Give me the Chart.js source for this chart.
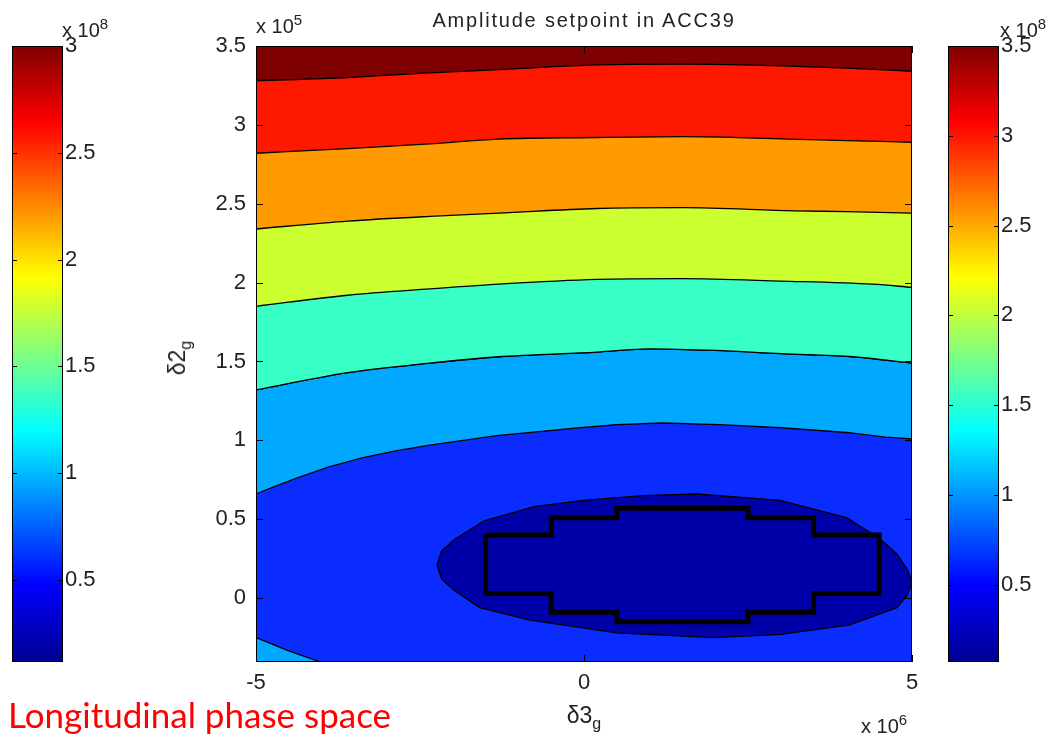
<!DOCTYPE html>
<html>
<head>
<meta charset="utf-8">
<script src="https://cdn.jsdelivr.net/npm/chart.js@4.4.1/dist/chart.umd.min.js"></script>
<style>
  body { margin: 0; width: 1058px; height: 735px; background: #fff; position: relative; overflow: hidden;
         font-family: "Liberation Sans", Arial, sans-serif; color: #222; }
  canvas { position: absolute; top: 0; }
  .t { position: absolute; white-space: nowrap; line-height: 1; }
  .exp { font-size: 20px; }
  .exp sup { font-size: 15px; vertical-align: 8px; }
  .lab { font-size: 23px; }
  .lab sub { font-size: 16px; vertical-align: -6px; }
</style>
</head>
<body>
<canvas id="cb-left" width="150" height="735" style="left:0"></canvas>
<canvas id="main-chart" width="800" height="735" style="left:150px"></canvas>
<canvas id="cb-right" width="118" height="735" style="left:940px"></canvas>

<div class="t" style="left:584px; top:10px; font-size:20px; letter-spacing:1.8px; transform:translateX(-50%)">Amplitude setpoint in ACC39</div>
<div class="t exp" style="left:256px; top:12px">x 10<sup>5</sup></div>
<div class="t exp" style="left:861px; top:712px">x 10<sup>6</sup></div>
<div class="t exp" style="left:62px; top:16px">x 10<sup>8</sup></div>
<div class="t exp" style="left:1000px; top:16px">x 10<sup>8</sup></div>
<div class="t lab" style="left:180px; top:358px; transform:translate(-50%,-50%) rotate(-90deg)">δ2<sub>g</sub></div>
<div class="t lab" style="left:584px; top:718px; transform:translate(-50%,-50%)">δ3<sub>g</sub></div>
<div class="t" style="left:8px; top:697px; font-size:35px; font-family:Lato, sans-serif; color:#ff0000">Longitudinal phase space</div>

<script>
// axes (x in units of 1e6, y in units of 1e5)
const x_range = [-5, 5];
const y_range = [-0.405, 3.5];
const x_ticks = [-5, 0, 5];
const y_ticks = [0, 0.5, 1, 1.5, 2, 2.5, 3, 3.5];

// colorbars (units of 1e8)
const left_bar_range = [0.116, 3];
const left_bar_ticks = [0.5, 1, 1.5, 2, 2.5, 3];
const right_bar_range = [0.07, 3.5];
const right_bar_ticks = [0.5, 1, 1.5, 2, 2.5, 3, 3.5];

// contour boundaries, top to bottom
const edge_1 = [[-5, 3.28], [-3.6, 3.3], [-2.35, 3.33], [-1.3, 3.35], [0.2, 3.38], [1.5, 3.385], [2.9, 3.375], [4, 3.36], [5, 3.34]];
const edge_2 = [[-5, 2.82], [-3.6, 2.85], [-2.35, 2.88], [-1.3, 2.91], [0.2, 2.92], [1.5, 2.925], [3.1, 2.91], [4, 2.9], [5, 2.89]];
const edge_3 = [[-5, 2.34], [-3.6, 2.39], [-2.35, 2.42], [-1.3, 2.44], [0.2, 2.47], [1.5, 2.475], [3.2, 2.455], [4, 2.45], [5, 2.44]];
const edge_4 = [[-5, 1.85], [-3.6, 1.92], [-2.35, 1.96], [-1.3, 1.99], [0.2, 2.02], [1.5, 2.025], [3, 2.01], [4.4, 1.99], [5, 1.97]];
const edge_5 = [[-5, 1.32], [-3.6, 1.43], [-2.35, 1.49], [-1.3, 1.53], [0.2, 1.56], [1, 1.58], [2, 1.57], [3, 1.55], [4.1, 1.53], [5, 1.49]];

// closed contours near the minimum
const outer_loop = [[-5, 0.66], [-4.7, 0.71], [-4.38, 0.76], [-3.9, 0.83], [-3.37, 0.89], [-2.85, 0.935], [-2.35, 0.97],
  [-1.33, 1.03], [-0.06, 1.08], [0.5, 1.1], [1.2, 1.11], [2.07, 1.1], [3, 1.08], [4, 1.05], [4.6, 1.02], [5, 1.01],
  [5, -0.405], [-4.02, -0.405], [-4.53, -0.33], [-5, -0.25], [-5, 0.66]];
const inner_loop = [[-2.24, 0.21], [-2.17, 0.3], [-1.98, 0.37], [-1.52, 0.49], [-0.76, 0.58], [0, 0.62], [0.9, 0.65],
  [1.72, 0.66], [2.99, 0.62], [4, 0.51], [4.5, 0.38], [4.77, 0.28], [4.93, 0.18], [5, 0.1], [4.93, 0.02], [4.77, -0.06],
  [4.05, -0.17], [3, -0.23], [1.97, -0.25], [0.5, -0.22], [-0.82, -0.14], [-1.59, -0.06], [-1.98, 0.05], [-2.17, 0.12],
  [-2.24, 0.21]];
const stair_outline = [[-1.5, 0.4], [-0.5, 0.4], [-0.5, 0.51], [0.5, 0.51], [0.5, 0.57], [2.5, 0.57], [2.5, 0.51],
  [3.5, 0.51], [3.5, 0.4], [4.5, 0.4], [4.5, 0.03], [3.5, 0.03], [3.5, -0.09], [2.5, -0.09], [2.5, -0.15], [0.5, -0.15],
  [0.5, -0.09], [-0.5, -0.09], [-0.5, 0.03], [-1.5, 0.03], [-1.5, 0.4]];

// band colours, bottom to top
const band_colors = ["#0000a8", "#0a2cff", "#00a8ff", "#38ffc6", "#ccff30", "#ff9a00", "#ff1800", "#7e0000"];

const jet_stops = [[0, "#000090"], [0.125, "#0000ff"], [0.375, "#00ffff"], [0.625, "#ffff00"], [0.875, "#ff0000"], [1, "#800000"]];
const tick_font = { family: "Liberation Sans", size: 22 };
const text_color = "#222";

const to_points = (pairs) => pairs.map(([x, y]) => ({ x, y }));

// black frame plus MATLAB style inward tick marks
const frame_ticks = {
  id: "frame_ticks",
  afterDatasetsDraw(chart, args, opts) {
    const { ctx, chartArea: a, scales } = chart;
    const len = opts.len || 7;
    ctx.save();
    ctx.strokeStyle = "#000";
    ctx.lineWidth = 1;
    ctx.beginPath();
    if (opts.y) {
      scales.y.ticks.forEach((t) => {
        const py = Math.round(scales.y.getPixelForValue(t.value)) + 0.5;
        ctx.moveTo(a.left, py); ctx.lineTo(a.left + len, py);
        ctx.moveTo(a.right, py); ctx.lineTo(a.right - len, py);
      });
    }
    if (opts.x) {
      scales.x.ticks.forEach((t) => {
        const px = Math.round(scales.x.getPixelForValue(t.value)) + 0.5;
        ctx.moveTo(px, a.bottom); ctx.lineTo(px, a.bottom - len);
        ctx.moveTo(px, a.top); ctx.lineTo(px, a.top + len);
      });
    }
    ctx.stroke();
    ctx.strokeRect(a.left + 0.5, a.top + 0.5, a.right - a.left - 1, a.bottom - a.top - 1);
    ctx.restore();
  },
};

const contour_dataset = (pairs, fill, color, order, width, smooth) => ({
  data: to_points(pairs),
  fill: fill,
  backgroundColor: color,
  borderColor: "#000",
  borderWidth: width || 1.3,
  borderJoinStyle: "miter",
  pointRadius: 0,
  tension: 0,
  cubicInterpolationMode: smooth ? "monotone" : "default",
  order: order,
});

const main_datasets = [
  contour_dataset(stair_outline, false, "transparent", 1, 5),
  contour_dataset(inner_loop, "shape", band_colors[0], 2),
  contour_dataset(outer_loop, "shape", band_colors[1], 3),
  contour_dataset(edge_1, "end", band_colors[7], 4, 1.3, true),
  contour_dataset(edge_2, "end", band_colors[6], 5, 1.3, true),
  contour_dataset(edge_3, "end", band_colors[5], 6, 1.3, true),
  contour_dataset(edge_4, "end", band_colors[4], 7, 1.3, true),
  contour_dataset(edge_5, "end", band_colors[3], 8, 1.3, true),
  contour_dataset(edge_5, "start", band_colors[2], 9, 1.3, true),
];

const main_chart = new Chart(document.getElementById("main-chart"), {
  type: "line",
  data: { datasets: main_datasets },
  plugins: [frame_ticks],
  options: {
    responsive: false,
    animation: false,
    layout: { padding: { left: 56, right: 38, top: 46, bottom: 33 } },
    plugins: {
      legend: { display: false },
      tooltip: { enabled: false },
      frame_ticks: { x: true, y: true, len: 7 },
    },
    scales: {
      x: {
        type: "linear",
        min: x_range[0],
        max: x_range[1],
        afterBuildTicks: (s) => { s.ticks = x_ticks.map((v) => ({ value: v })); },
        afterFit: (s) => { s.height = 40; },
        grid: { display: false, drawTicks: false },
        border: { display: false },
        ticks: { font: tick_font, color: text_color, padding: 8, maxRotation: 0, callback: (v) => String(v) },
      },
      y: {
        type: "linear",
        min: y_range[0],
        max: y_range[1],
        afterBuildTicks: (s) => { s.ticks = y_ticks.map((v) => ({ value: v })); },
        afterFit: (s) => { s.width = 50; },
        grid: { display: false, drawTicks: false },
        border: { display: false },
        ticks: { font: tick_font, color: text_color, padding: 10, callback: (v) => String(v) },
      },
    },
  },
});

const jet_gradient = (c) => {
  const { chart } = c;
  const area = chart.chartArea;
  if (!area) return null;
  const g = chart.ctx.createLinearGradient(0, area.bottom, 0, area.top);
  jet_stops.forEach(([t, col]) => g.addColorStop(t, col));
  return g;
};

const draw_colorbar = (id, range, ticks, pad_left, pad_right) => new Chart(document.getElementById(id), {
  type: "bar",
  data: {
    labels: [""],
    datasets: [{
      data: [range],
      backgroundColor: jet_gradient,
      borderColor: "#000",
      borderWidth: 1,
      borderSkipped: false,
      barPercentage: 1,
      categoryPercentage: 1,
    }],
  },
  plugins: [frame_ticks],
  options: {
    responsive: false,
    animation: false,
    layout: { padding: { left: pad_left, right: pad_right, top: 46, bottom: 73 } },
    plugins: {
      legend: { display: false },
      tooltip: { enabled: false },
      frame_ticks: { y: true, len: 5 },
    },
    scales: {
      x: { display: false },
      y: {
        position: "right",
        min: range[0],
        max: range[1],
        afterBuildTicks: (s) => { s.ticks = ticks.map((v) => ({ value: v })); },
        afterFit: (s) => { s.width = 50; },
        grid: { display: false, drawTicks: false },
        border: { display: false },
        ticks: { font: tick_font, color: text_color, padding: 2, callback: (v) => String(v) },
      },
    },
  },
});

const left_bar = draw_colorbar("cb-left", left_bar_range, left_bar_ticks, 12, 37);
const right_bar = draw_colorbar("cb-right", right_bar_range, right_bar_ticks, 8, 9);
</script>
</body>
</html>
